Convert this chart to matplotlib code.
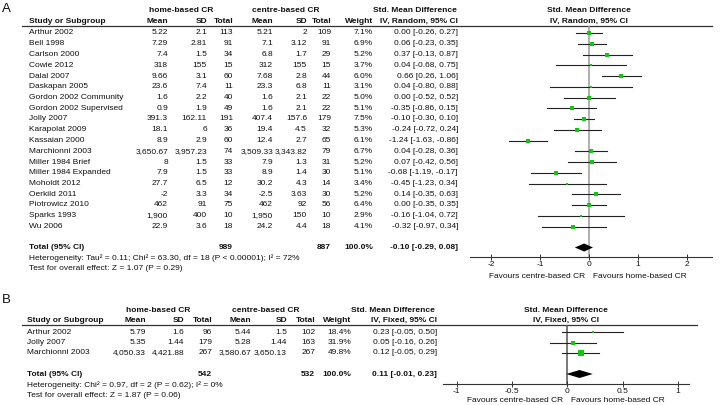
import matplotlib
matplotlib.use("Agg")
import matplotlib.pyplot as plt

plt.rcParams['font.family'] = ['Liberation Sans', 'DejaVu Sans']

# ---------------- Panel A data ----------------
studies_a = ["Arthur 2002", "Bell 1998", "Carlson 2000", "Cowie 2012", "Dalal 2007",
             "Daskapan 2005", "Gordon 2002 Community", "Gordon 2002 Supervised",
             "Jolly 2007", "Karapolat 2009", "Kassaian 2000", "Marchionni 2003",
             "Miller 1984 Brief", "Miller 1984 Expanded", "Moholdt 2012",
             "Oerkild 2011", "Piotrowicz 2010", "Sparks 1993", "Wu 2006"]
home_mean_a = [5.22, 7.29, 7.4, 318, 9.66, 23.6, 1.6, 0.9, 391.3, 18.1, 8.9,
               3650.67, 8, 7.9, 27.7, -2, 462, 1900, 22.9]
home_sd_a = [2.1, 2.81, 1.5, 155, 3.1, 7.4, 2.2, 1.9, 162.11, 6, 2.9,
             3957.23, 1.5, 1.5, 6.5, 3.3, 91, 400, 3.6]
home_n_a = [113, 91, 34, 15, 60, 11, 40, 49, 191, 36, 60, 74, 33, 33, 12, 34, 75, 10, 18]
centre_mean_a = [5.21, 7.1, 6.8, 312, 7.68, 23.3, 1.6, 1.6, 407.4, 19.4, 12.4,
                 3509.33, 7.9, 8.9, 30.2, -2.5, 462, 1950, 24.2]
centre_sd_a = [2, 3.12, 1.7, 155, 2.8, 6.8, 2.1, 2.1, 157.6, 4.5, 2.7,
               3343.82, 1.3, 1.4, 4.3, 3.63, 92, 150, 4.4]
centre_n_a = [109, 91, 29, 15, 44, 11, 22, 22, 179, 32, 65, 79, 31, 30, 14, 30, 56, 10, 18]
weight_a = [7.1, 6.9, 5.2, 3.7, 6.0, 3.1, 5.0, 5.1, 7.5, 5.3, 6.1, 6.7, 5.2, 5.1,
            3.4, 5.2, 6.4, 2.9, 4.1]
smd_a = [0.00, 0.06, 0.37, 0.04, 0.66, 0.04, 0.00, -0.35, -0.10, -0.24, -1.24,
         0.04, 0.07, -0.68, -0.45, 0.14, 0.00, -0.16, -0.32]
lo_a = [-0.26, -0.23, -0.13, -0.68, 0.26, -0.80, -0.52, -0.86, -0.30, -0.72, -1.63,
        -0.28, -0.42, -1.19, -1.23, -0.35, -0.35, -1.04, -0.97]
hi_a = [0.27, 0.35, 0.87, 0.75, 1.06, 0.88, 0.52, 0.15, 0.10, 0.24, -0.86,
        0.36, 0.56, -0.17, 0.34, 0.63, 0.35, 0.72, 0.34]
total_a = {"home_n": 989, "centre_n": 887, "smd": -0.10, "lo": -0.29, "hi": 0.08}
het_a = "Heterogeneity: Tau² = 0.11; Chi² = 63.30, df = 18 (P < 0.00001); I² = 72%"
test_a = "Test for overall effect: Z = 1.07 (P = 0.29)"
ticks_a = [-2, -1, 0, 1, 2]
tick_labels_a = ["-2", "-1", "0", "1", "2"]

# ---------------- Panel B data ----------------
studies_b = ["Arthur 2002", "Jolly 2007", "Marchionni 2003"]
home_mean_b = [5.79, 5.35, 4050.33]
home_sd_b = [1.6, 1.44, 4421.88]
home_n_b = [96, 179, 267]
centre_mean_b = [5.44, 5.28, 3580.67]
centre_sd_b = [1.5, 1.44, 3650.13]
centre_n_b = [102, 163, 267]
weight_b = [18.4, 31.9, 49.8]
smd_b = [0.23, 0.05, 0.12]
lo_b = [-0.05, -0.16, -0.05]
hi_b = [0.50, 0.26, 0.29]
total_b = {"home_n": 542, "centre_n": 532, "smd": 0.11, "lo": -0.01, "hi": 0.23}
het_b = "Heterogeneity: Chi² = 0.97, df = 2 (P = 0.62); I² = 0%"
test_b = "Test for overall effect: Z = 1.87 (P = 0.06)"
ticks_b = [-1, -0.5, 0, 0.5, 1]
tick_labels_b = ["-1", "-0.5", "0", "0.5", "1"]

GREEN = "#10c810"
FS = 6.0
TXT = "#111111"

fig = plt.figure(figsize=(7.2, 4.05), dpi=100)
bg = fig.add_axes([0, 0, 1, 1])
bg.set_xlim(0, 720)
bg.set_ylim(405, 0)
bg.axis("off")


def fmt(v):
    return f"{v:,}"


def t(x, y, s, ha="left", bold=False, size=FS):
    bg.text(x, y, s, ha=ha, va="center", fontsize=size,
            fontweight="bold" if bold else "normal", color=TXT)


def forest_ax(x0, x1, y0, y1, xmin, xmax, zero_color):
    ax = fig.add_axes([x0 / 720, 1 - y1 / 405, (x1 - x0) / 720, (y1 - y0) / 405])
    ax.set_xlim(xmin, xmax)
    ax.set_ylim(y1, y0)
    ax.patch.set_alpha(0)
    for s in ("top", "left", "right"):
        ax.spines[s].set_visible(False)
    ax.spines["bottom"].set_color("#333333")
    ax.spines["bottom"].set_linewidth(0.8)
    ax.set_yticks([])
    ax.tick_params(axis="x", direction="inout", length=5, width=0.7,
                   colors="#333333", labelsize=FS, pad=0.5, labelcolor=TXT)
    ax.axvline(0, color=zero_color, lw=1.1, zorder=1)
    return ax


def panel(label, label_y, x, rows_y0, dy, studies, hm, hs, hn, cm, cs, cn, w,
          smd, lo, hi, total, het, test, method, head_y, line_y, line_x1,
          fx0, fx1, fxmin, fxmax, axis_y, ticks, tlabels, zero_color, sq_scale,
          fav_y, fav_x0, fav_x1, table_mid, ci_r):
    t(2, label_y, label, size=9.5)
    # group headers
    t(x["hg"], head_y, "home-based CR", ha="center", bold=True)
    t(x["cg"], head_y, "centre-based CR", ha="center", bold=True)
    t(table_mid, head_y, "Std. Mean Difference", ha="center", bold=True)
    t(x["fc"], head_y, "Std. Mean Difference", ha="center", bold=True)
    h2 = head_y + 10.5
    t(x["study"], h2, "Study or Subgroup", bold=True)
    for key, name in (("hm", "Mean"), ("hs", "SD"), ("hn", "Total"),
                      ("cm", "Mean"), ("cs", "SD"), ("cn", "Total"), ("w", "Weight")):
        t(x[key], h2, name, ha="right", bold=True)
    t(ci_r, h2, f"IV, {method}, 95% CI", ha="right", bold=True)
    t(x["fc"], h2, f"IV, {method}, 95% CI", ha="center", bold=True)
    bg.plot([22, line_x1], [line_y, line_y], color="#333333", lw=0.9)

    ax = forest_ax(fx0, fx1, line_y, axis_y, fxmin, fxmax, zero_color)
    ax.set_xticks(ticks)
    ax.set_xticklabels(tlabels)

    ys = []
    for i, name in enumerate(studies):
        y = rows_y0 + dy * i
        ys.append(y)
        t(x["study"], y, name)
        t(x["hm"], y, fmt(hm[i]), ha="right")
        t(x["hs"], y, fmt(hs[i]), ha="right")
        t(x["hn"], y, fmt(hn[i]), ha="right")
        t(x["cm"], y, fmt(cm[i]), ha="right")
        t(x["cs"], y, fmt(cs[i]), ha="right")
        t(x["cn"], y, fmt(cn[i]), ha="right")
        t(x["w"], y, f"{w[i]:.1f}%", ha="right")
        t(ci_r, y, f"{smd[i]:.2f} [{lo[i]:.2f}, {hi[i]:.2f}]", ha="right")
        ax.plot([lo[i], hi[i]], [y, y], color="#222222", lw=0.8, zorder=2)
        ax.plot([smd[i]], [y], marker="s", color=GREEN, mew=0,
                ms=max(2.0, sq_scale(w[i])), zorder=3)

    ty = ys[-1] + 21
    t(x["study"], ty, "Total (95% CI)", bold=True)
    t(x["hn"], ty, fmt(total["home_n"]), ha="right", bold=True)
    t(x["cn"], ty, fmt(total["centre_n"]), ha="right", bold=True)
    t(x["w"], ty, "100.0%", ha="right", bold=True)
    t(ci_r, ty, f"{total['smd']:.2f} [{total['lo']:.2f}, {total['hi']:.2f}]",
      ha="right", bold=True)
    ax.fill([total["lo"], total["smd"], total["hi"], total["smd"]],
            [ty, ty - 4, ty, ty + 4], color="black", zorder=4, lw=0)
    t(x["study"], ty + 11, het)
    t(x["study"], ty + 21.5, test)

    bg.text(fav_x0, fav_y, "Favours centre-based CR", ha="right", va="center",
            fontsize=FS, color=TXT)
    bg.text(fav_x1, fav_y, "Favours home-based CR", ha="left", va="center",
            fontsize=FS, color=TXT)


xa = {"study": 29, "hg": 181, "hm": 168, "hs": 207, "hn": 233, "cg": 286,
      "cm": 273, "cs": 307, "cn": 331, "w": 373, "fc": 589}
panel("A", 8.5, xa, 33, 10.75, studies_a, home_mean_a, home_sd_a, home_n_a,
      centre_mean_a, centre_sd_a, centre_n_a, weight_a, smd_a, lo_a, hi_a,
      total_a, het_a, test_a, "Random", 11, 26, 712,
      470, 712, -2.43, 2.51, 257, ticks_a, tick_labels_a, "#9a9a9a",
      lambda w: (w ** 0.5) * 1.1, 276, 585, 593, 415, 458)

xb = {"study": 27, "hg": 158, "hm": 146, "hs": 184, "hn": 212, "cg": 266,
      "cm": 251, "cs": 287, "cn": 315, "w": 351, "fc": 566}
panel("B", 300, xb, 332, 10.5, studies_b, home_mean_b, home_sd_b, home_n_b,
      centre_mean_b, centre_sd_b, centre_n_b, weight_b, smd_b, lo_b, hi_b,
      total_b, het_b, test_b, "Fixed", 310, 325, 697,
      443, 689, -1.125, 1.10, 384, ticks_b, tick_labels_b, "#555555",
      lambda w: w * 0.1, 401, 563, 571, 393, 437)

fig.savefig("out.png", dpi=100)
